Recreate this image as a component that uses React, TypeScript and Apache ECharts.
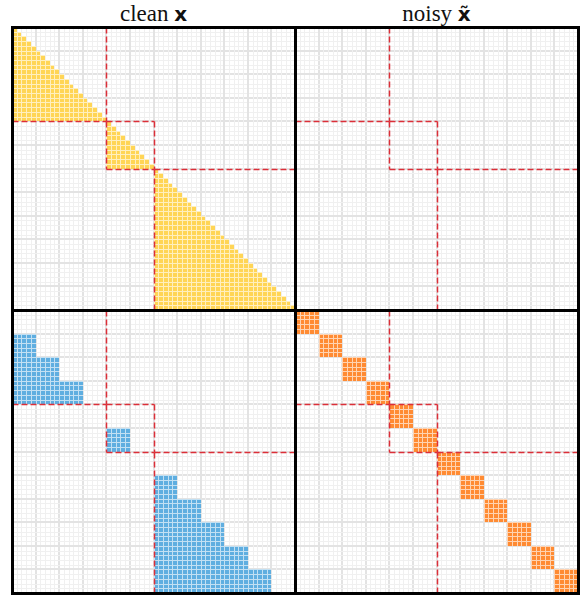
import React, { useEffect, useRef } from "react";
import * as echarts from "echarts";

// ---- data ----
const blockSizes = [20, 10, 30]; // sequence blocks (tokens per block)
const chunkSize = 5; // tokens per chunk
const panelTitles = ["clean", "noisy"];
const panelSymbols = ["x", "x\u0303"];
const colorClean = "#FFD555";
const colorCross = "#5FAEE0";
const colorNoisy = "#FF8B33";
const colorBoundary = "#DC2F38";

// ---- derived structure ----
const total = blockSizes.reduce((a, b) => a + b, 0);
const blockStarts: number[] = [];
{
  let s = 0;
  for (const b of blockSizes) {
    blockStarts.push(s);
    s += b;
  }
}
const gridIndices: number[][] = [];
for (let i = 0; i <= total; i++) gridIndices.push([i, i]);

function causalCells(): number[][] {
  const out: number[][] = [];
  blockSizes.forEach((size, k) => {
    const s = blockStarts[k];
    for (let i = s; i < s + size; i++) {
      for (let j = s; j <= i; j++) out.push([j, i]);
    }
  });
  return out;
}

function chunkCausalCells(): number[][] {
  const out: number[][] = [];
  blockSizes.forEach((size, k) => {
    const s = blockStarts[k];
    for (let i = s; i < s + size; i++) {
      const c = Math.floor((i - s) / chunkSize);
      for (let j = s; j < s + c * chunkSize; j++) out.push([j, i]);
    }
  });
  return out;
}

function chunkDiagCells(): number[][] {
  const out: number[][] = [];
  blockSizes.forEach((size, k) => {
    const s = blockStarts[k];
    for (let i = s; i < s + size; i++) {
      const c0 = s + Math.floor((i - s) / chunkSize) * chunkSize;
      for (let j = c0; j < c0 + chunkSize; j++) out.push([j, i]);
    }
  });
  return out;
}

function boundarySegments(): number[][] {
  const segs: number[][] = [];
  blockSizes.forEach((size, k) => {
    const s = blockStarts[k];
    const e = s + size;
    segs.push([s, s, e, s]);
    segs.push([s, e, e, e]);
    segs.push([s, s, s, e]);
    segs.push([e, s, e, e]);
  });
  return segs;
}

function pale(hex: string, t: number): string {
  const n = parseInt(hex.slice(1), 16);
  const r = (n >> 16) & 255, g = (n >> 8) & 255, b = n & 255;
  const m = (c: number) => Math.round(c + (255 - c) * t);
  return `rgb(${m(r)},${m(g)},${m(b)})`;
}

const App: React.FC = () => {
  const ref = useRef<HTMLDivElement>(null);

  useEffect(() => {
    document.body.style.margin = "0";
    if (!ref.current) return;
    const chart = echarts.init(ref.current, undefined, { renderer: "svg" });

    const L = 12;
    const T = 27;
    const S = 283;
    const quads = [
      { left: L, top: T },
      { left: L + S, top: T },
      { left: L, top: T + S },
      { left: L + S, top: T + S },
    ];
    const cellSets: (number[][] | null)[] = [
      causalCells(),
      null,
      chunkCausalCells(),
      chunkDiagCells(),
    ];
    const cellColors = [colorClean, null, colorCross, colorNoisy];

    const axisCommon = {
      type: "value" as const,
      min: 0,
      max: total,
      interval: chunkSize,
      axisLine: { show: false },
      axisTick: { show: false },
      axisLabel: { show: false },
      splitLine: { show: false },
    };

    const series: any[] = [];
    quads.forEach((_, qi) => {
      // background lattice
      series.push({
        type: "custom",
        xAxisIndex: qi,
        yAxisIndex: qi,
        data: gridIndices,
        encode: { x: 0, y: 1 },
        z: 1,
        silent: true,
        renderItem: (params: any, api: any) => {
          const i = api.value(0);
          const p0 = api.coord([0, 0]);
          const p1 = api.coord([total, total]);
          const p = api.coord([i, i]);
          const major = i % chunkSize === 0;
          const x = Math.round(p[0]);
          const y = Math.round(p[1]);
          const w = major ? 2 : 1;
          const off = major ? 0 : 0.5;
          const color = major ? "#e3e3e3" : "#f0f0f0";
          return {
            type: "group",
            children: [
              {
                type: "line",
                shape: { x1: x + off, y1: p0[1], x2: x + off, y2: p1[1] },
                style: { stroke: color, lineWidth: w },
              },
              {
                type: "line",
                shape: { x1: p0[0], y1: y + off, x2: p1[0], y2: y + off },
                style: { stroke: color, lineWidth: w },
              },
            ],
          };
        },
      });
      const cells = cellSets[qi];
      if (cells) {
        const fill = cellColors[qi] as string;
        const gap = pale(fill, 0.62);
        series.push({
          type: "custom",
          xAxisIndex: qi,
          yAxisIndex: qi,
          data: cells,
          encode: { x: 0, y: 1 },
          z: 2,
          renderItem: (params: any, api: any) => {
            const p = api.coord([api.value(0), api.value(1)]);
            const q = api.coord([api.value(0) + 1, api.value(1) + 1]);
            const x0 = Math.round(p[0]);
            const y0 = Math.round(p[1]);
            const x1 = Math.round(q[0]);
            const y1 = Math.round(q[1]);
            return {
              type: "group",
              children: [
                {
                  type: "rect",
                  shape: { x: x0, y: y0, width: x1 - x0, height: y1 - y0 },
                  style: { fill: gap },
                },
                {
                  type: "rect",
                  shape: { x: x0 + 1, y: y0 + 1, width: x1 - x0 - 1, height: y1 - y0 - 1 },
                  style: { fill },
                },
              ],
            };
          },
        });
      }
      series.push({
        type: "custom",
        xAxisIndex: qi,
        yAxisIndex: qi,
        data: boundarySegments(),
        encode: { x: [0, 2], y: [1, 3] },
        z: 3,
        renderItem: (params: any, api: any) => {
          const p1 = api.coord([api.value(0), api.value(1)]);
          const p2 = api.coord([api.value(2), api.value(3)]);
          return {
            type: "line",
            shape: {
              x1: Math.round(p1[0]) + 0.5,
              y1: Math.round(p1[1]) + 0.5,
              x2: Math.round(p2[0]) + 0.5,
              y2: Math.round(p2[1]) + 0.5,
            },
            style: { stroke: colorBoundary, lineWidth: 1.5, lineDash: [6, 3] },
          };
        },
      });
    });

    const titleRich = {
      t: { fontFamily: "Liberation Serif", fontWeight: "normal" as const, fontSize: 23, color: "#111" },
      m: { fontFamily: "DejaVu Sans", fontWeight: "bold" as const, fontSize: 20, color: "#111" },
    };

    chart.setOption({
      animation: false,
      backgroundColor: "#ffffff",
      title: [0, 1].map((c) => ({
        text: `{t|${panelTitles[c]} }{m|${panelSymbols[c]}}`,
        left: L + S * c + S / 2,
        top: 2,
        textAlign: "center",
        padding: 0,
        textStyle: { fontWeight: "normal", rich: titleRich },
      })),
      grid: quads.map((q) => ({ left: q.left, top: q.top, width: S, height: S, show: false })),
      xAxis: quads.map((_, qi) => ({ ...axisCommon, gridIndex: qi })),
      yAxis: quads.map((_, qi) => ({ ...axisCommon, gridIndex: qi, inverse: true })),
      series,
      graphic: quads.map((q) => ({
        type: "rect",
        z: 100,
        shape: { x: q.left + 0.5, y: q.top + 0.5, width: S, height: S },
        style: { fill: "none", stroke: "#000", lineWidth: 3 },
      })),
    });

    return () => chart.dispose();
  }, []);

  return <div ref={ref} style={{ width: 584, height: 595 }} />;
};

export default App;
